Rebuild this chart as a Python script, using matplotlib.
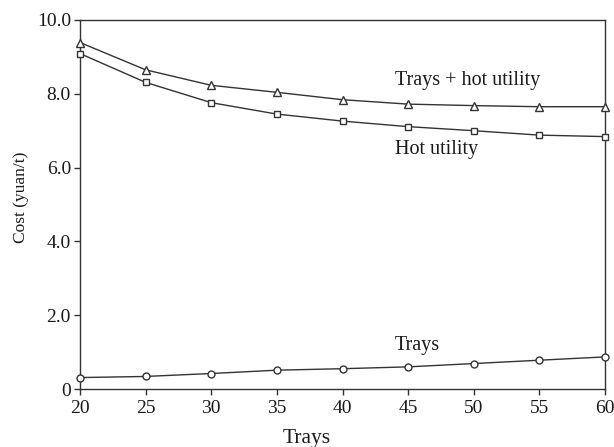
import matplotlib
matplotlib.use("Agg")
import matplotlib.pyplot as plt

trays = [20, 25, 30, 35, 40, 45, 50, 55, 60]
total_cost = [9.39, 8.65, 8.23, 8.04, 7.84, 7.72, 7.68, 7.65, 7.65]
hot_utility = [9.09, 8.31, 7.76, 7.45, 7.26, 7.11, 7.00, 6.88, 6.84]
tray_cost = [0.31, 0.34, 0.42, 0.51, 0.55, 0.60, 0.69, 0.78, 0.87]
yticks = [0, 2, 4, 6, 8, 10]
ytick_labels = ["0", "2.0", "4.0", "6.0", "8.0", "10.0"]

plt.rcParams['font.family'] = ['Liberation Serif', 'DejaVu Serif']
c = '#333333'
tc = '#1a1a1a'
fig = plt.figure(figsize=(6.14, 4.47), dpi=100)
ax = fig.add_axes([80/614, 1-389/447, 525/614, 369/447])

mk = dict(color=c, lw=1.0, markerfacecolor='white', markeredgecolor=c,
          markeredgewidth=1.0, clip_on=False, zorder=3)
ax.plot(trays, total_cost, marker='^', markersize=5.5, **mk)
ax.plot(trays, hot_utility, marker='s', markersize=5, **mk)
ax.plot(trays, tray_cost, marker='o', markersize=5, **mk)

ax.set_xlim(20, 60)
ax.set_ylim(0, 10)
ax.set_xticks(trays)
ax.set_yticks(yticks)
ax.set_yticklabels(ytick_labels)
ax.tick_params(axis='both', direction='out', length=4, width=1, colors=c,
               labelsize=14, labelcolor=tc)
ax.tick_params(axis='x', pad=4)
ax.tick_params(axis='y', pad=2.5)
for s in ax.spines.values():
    s.set_color(c)
    s.set_linewidth(1.0)

ax.set_xlabel('Trays', fontsize=15.5, color=tc)
ax.xaxis.set_label_coords((307-80)/525, -(438-389)/369)
ax.xaxis.label.set_va('center')
ax.set_ylabel('Cost (yuan/t)', fontsize=12.5, color=tc)
ax.yaxis.set_label_coords((21.5-80)/525, (389-197.5)/369)
ax.yaxis.label.set_va('center')

ax.text(44.0, 8.35, 'Trays + hot utility', fontsize=14.5, color=tc, va='center', ha='left')
ax.text(44.0, 6.48, 'Hot utility', fontsize=14.5, color=tc, va='center', ha='left')
ax.text(44.0, 1.17, 'Trays', fontsize=14.5, color=tc, va='center', ha='left')

fig.savefig('out.png', dpi=100)
